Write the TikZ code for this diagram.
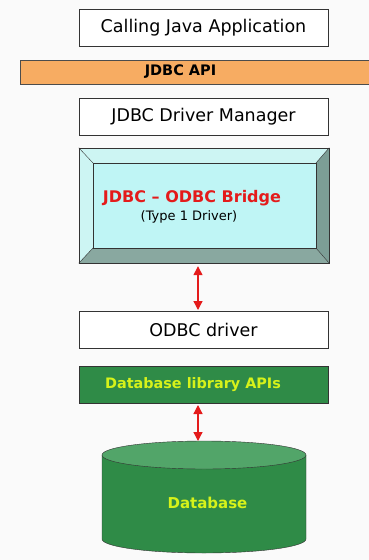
\documentclass[tikz,border=0pt]{standalone}
\usepackage{fontspec}
\setmainfont{DejaVu Sans}
\usepackage{tikz}
\usetikzlibrary{arrows.meta}
\definecolor{apiorange}{HTML}{F7AC62}
\definecolor{dbgreen}{HTML}{2F8B47}
\definecolor{dbtop}{HTML}{52A569}
\definecolor{dblabel}{HTML}{D6F21A}
\definecolor{bridgeface}{HTML}{BFF5F5}
\definecolor{bevellight}{HTML}{CDF5F3}
\definecolor{beveldark}{HTML}{7C9E96}
\definecolor{linkred}{HTML}{E41B1B}
\tikzset{
  layer/.style = {draw=black!80, fill=white, minimum width=249pt, minimum height=37pt, inner sep=0pt, font=\fontsize{17.5}{20}\selectfont},
  apibar/.style = {draw=black!70, fill=apiorange, minimum width=352pt, minimum height=24pt, inner sep=0pt},
  greenbox/.style = {layer, fill=dbgreen, text=dblabel, font=\fontsize{14.4}{17}\selectfont\bfseries},
  link/.style = {linkred, line width=1.3pt, {Triangle[width=9pt,length=9pt]}-{Triangle[width=9pt,length=9pt]}}
}

\begin{document}
\begin{tikzpicture}[x=1pt,y=-1pt]
\useasboundingbox[fill=black!2] (0,0) rectangle (369,560);
\node[layer] (app) at (203.5,27.5) {Calling Java Application};
\node[apibar] (api) at (196,72) {};
\node[font=\fontsize{14.5}{17}\selectfont\bfseries] (apilabel) at (180.5,72) {JDBC API};
\node[layer] (manager) at (203.5,116.5) {JDBC Driver Manager};
% bevelled bridge box
\node[draw=black!80, fill=bevellight, minimum width=250pt, minimum height=115pt, inner sep=0pt] (bridge) at (204,205.5) {};
\coordinate (inNW) at (93,163);
\coordinate (inNE) at (316,163);
\coordinate (inSE) at (316,248);
\coordinate (inSW) at (93,248);
\fill[beveldark] (bridge.north east) -- (inNE) -- (inSE) -- (bridge.south east) -- cycle;
\fill[beveldark!90!white] (bridge.south west) -- (inSW) -- (inSE) -- (bridge.south east) -- cycle;
\draw[black!80] (bridge.north west) -- (inNW) (bridge.north east) -- (inNE)
  (bridge.south east) -- (inSE) (bridge.south west) -- (inSW);
\draw[black!80, fill=bridgeface] (inNW) rectangle (inSE);
\draw[black!80] (bridge.north west) rectangle (bridge.south east);
\node[text=linkred, font=\fontsize{16}{19}\selectfont\bfseries] (bridgetitle) at (192,198) {JDBC -- ODBC Bridge};
\node[font=\fontsize{13}{15}\selectfont] (bridgetype) at (189,217) {(Type 1 Driver)};
\node[layer] (odbc) at (203.5,330) {ODBC driver};
\node[greenbox] (dblib) at (203.5,384.5) {\hspace*{-21pt}Database library APIs};
% database cylinder
\coordinate (dbtopc) at (204,441);
\draw[black!80, fill=dbgreen] (102,455) -- (102,539) arc[start angle=180, end angle=0, x radius=102, y radius=14] -- (306,455) -- cycle;
\draw[black!80, fill=dbtop] (204,455) ellipse[x radius=102, y radius=14];
\node[text=dblabel, font=\fontsize{15}{18}\selectfont\bfseries] (db) at (207.5,503) {Database};
\draw[link] (bridge.south -| 198,0) ++(0,3) coordinate (a1) (a1) -- (198,310);
\draw[link] (198,405) -- (dbtopc -| 198,0);
\end{tikzpicture}
\end{document}
